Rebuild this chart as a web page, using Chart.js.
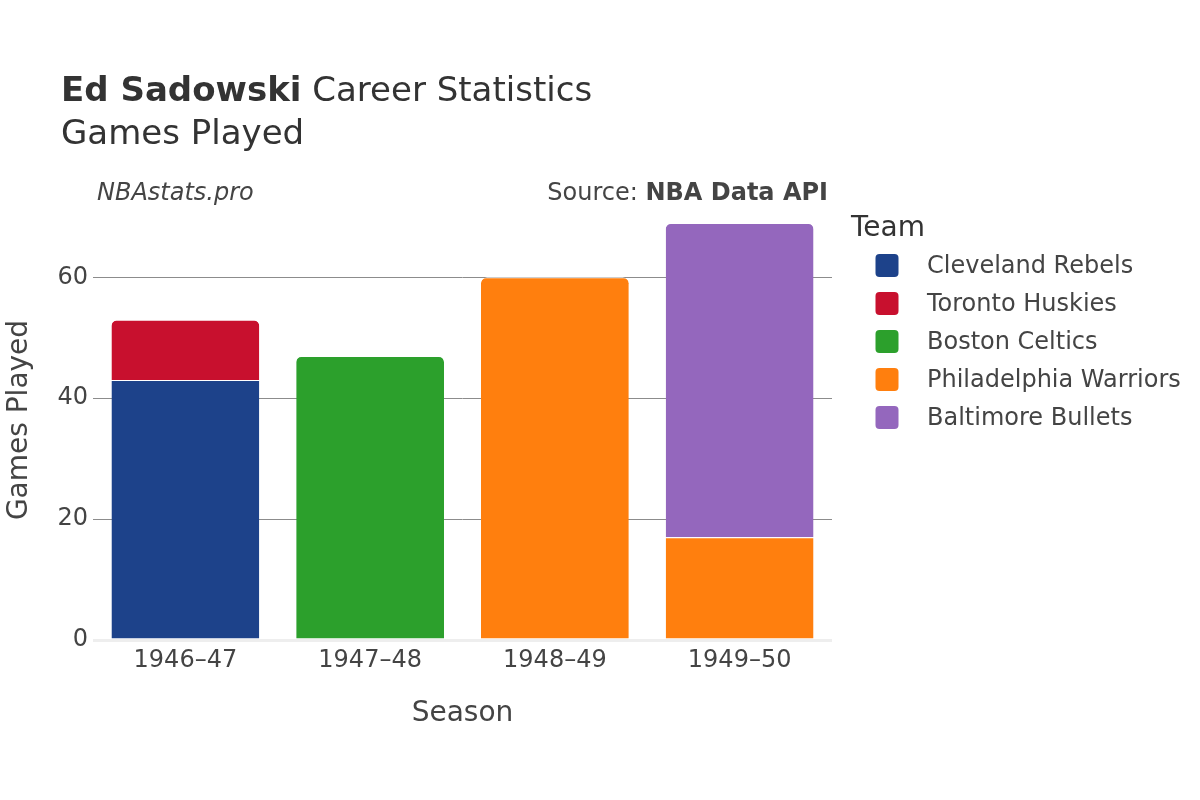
<!DOCTYPE html>
<html>
<head>
<meta charset="utf-8">
<script src="https://cdn.jsdelivr.net/npm/chart.js@4.4.1/dist/chart.umd.min.js"></script>
<style>
html,body{margin:0;padding:0;background:#fff;}
#wrap{position:relative;width:1200px;height:800px;}
</style>
</head>
<body>
<div id="wrap"><canvas id="c" width="1200" height="800"></canvas></div>
<script>
const seasons = ["1946\u201347", "1947\u201348", "1948\u201349", "1949\u201350"];
const teams = ["Cleveland Rebels", "Toronto Huskies", "Boston Celtics", "Philadelphia Warriors", "Baltimore Bullets"];
const teamColors = ["#1d428a", "#c8102e", "#2ca02c", "#ff7f0e", "#9467bd"];
const clevelandGames = [43, null, null, null];
const torontoGames = [10, null, null, null];
const bostonGames = [null, 47, null, null];
const philadelphiaGames = [null, null, 60, 17];
const baltimoreGames = [null, null, null, 52];
const yTicks = [0, 20, 40, 60];

const seriesValues = [clevelandGames, torontoGames, bostonGames, philadelphiaGames, baltimoreGames];
// stacking order (bottom to top)
const stackOrder = [3, 0, 1, 2, 4];

function topDataset(idx) {
  let top = -1, bestPos = -1;
  seriesValues.forEach((vals, d) => {
    if (vals[idx] != null && stackOrder.indexOf(d) > bestPos) { bestPos = stackOrder.indexOf(d); top = d; }
  });
  return top;
}

const FONT = "'DejaVu Sans', sans-serif";
const TEXT = "#444";

const datasets = teams.map((t, i) => ({
  label: t,
  teamIndex: i,
  data: seriesValues[i],
  backgroundColor: teamColors[i],
  borderColor: "#ffffff",
  borderWidth: {top: 1, left: 0, right: 0, bottom: 0},
  borderSkipped: false,
  borderRadius: ctx => (topDataset(ctx.dataIndex) === ctx.dataset.teamIndex)
    ? {topLeft: 6, topRight: 6, bottomLeft: 0, bottomRight: 0} : 0,
  stack: "s",
  barPercentage: 0.8,
  categoryPercentage: 1.0
}));
const orderedDatasets = stackOrder.map(i => datasets[i]);

const decor = {
  id: "decor",
  afterDraw(chart) {
    const c = chart.ctx;
    const a = chart.chartArea;
    c.save();
    c.fillStyle = "#333";
    c.textBaseline = "alphabetic";
    c.textAlign = "left";
    c.font = "bold 34px " + FONT;
    const b = "Ed Sadowski";
    c.fillText(b, 61, 101);
    const bw = c.measureText(b).width;
    c.font = "34px " + FONT;
    c.fillText(" Career Statistics", 61 + bw, 101);
    c.fillText("Games Played", 61, 144);

    c.fillStyle = TEXT;
    c.font = "italic 24px " + FONT;
    c.fillText("NBAstats.pro", 97, 200);
    c.textAlign = "right";
    c.font = "bold 24px " + FONT;
    const s2 = "NBA Data API";
    c.fillText(s2, 828, 200);
    const s2w = c.measureText(s2).width;
    c.font = "24px " + FONT;
    c.fillText("Source: ", 828 - s2w, 200);

    // axis titles
    c.textAlign = "center";
    c.font = "28px " + FONT;
    c.fillText("Season", (a.left + a.right) / 2, 721);
    c.save();
    c.translate(27, 420);
    c.rotate(-Math.PI / 2);
    c.fillText("Games Played", 0, 0);
    c.restore();

    // legend
    c.textAlign = "left";
    c.fillStyle = "#333";
    c.font = "28px " + FONT;
    c.fillText("Team", 851, 236);
    c.font = "24px " + FONT;
    teams.forEach((t, i) => {
      const cy = 265.5 + i * 38;
      c.fillStyle = teamColors[i];
      c.beginPath();
      c.roundRect(875.5, cy - 11.5, 23, 23, 4);
      c.fill();
      c.fillStyle = TEXT;
      c.textBaseline = "middle";
      c.fillText(t, 927, cy + 1);
    });
    c.restore();
  }
};

new Chart(document.getElementById("c"), {
  type: "bar",
  data: { labels: seasons, datasets: orderedDatasets },
  options: {
    responsive: false,
    animation: false,
    devicePixelRatio: 1,
    layout: { padding: { left: 0, right: 368, top: 200, bottom: 0 } },
    plugins: { legend: { display: false }, tooltip: { enabled: false }, title: { display: false } },
    scales: {
      x: {
        stacked: true,
        grid: { display: false, drawTicks: false },
        border: { display: false },
        ticks: { color: TEXT, font: { family: FONT, size: 24 }, padding: 6 },
        afterFit(s) { s.height = 160; }
      },
      y: {
        stacked: true,
        min: 0,
        max: 72.8,
        afterBuildTicks(s) { s.ticks = yTicks.map(v => ({ value: v })); },
        grid: {
          color: ctx => ctx.tick && ctx.tick.value === 0 ? "#eeeeee" : "#8c8c8c",
          lineWidth: ctx => ctx.tick && ctx.tick.value === 0 ? 3 : 1,
          drawTicks: false
        },
        border: { display: false },
        ticks: { color: TEXT, font: { family: FONT, size: 24 }, padding: 5 },
        afterFit(s) { s.width = 93; }
      }
    }
  },
  plugins: [decor]
});
</script>
</body>
</html>
